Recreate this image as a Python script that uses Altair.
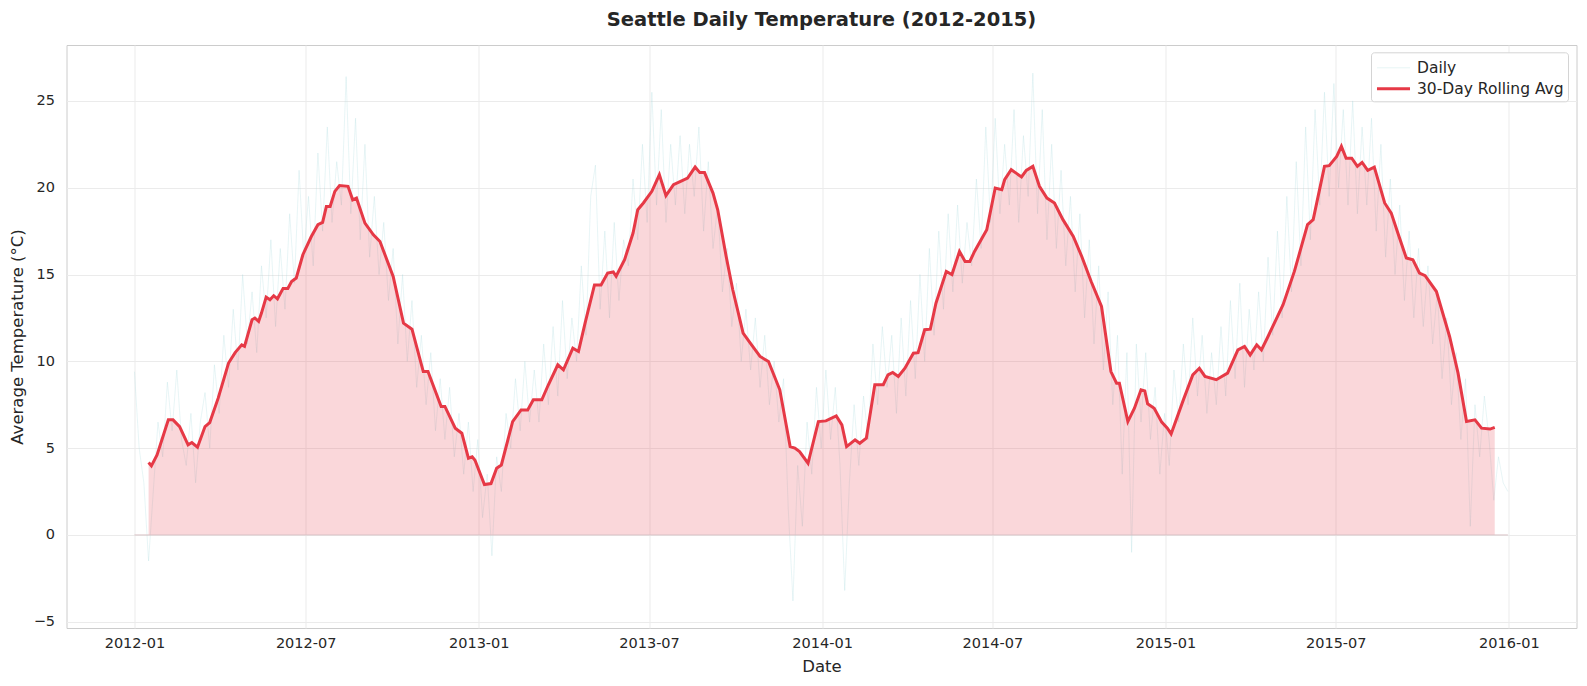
import altair as alt
import pandas as pd

FONT = "DejaVu Sans"
INK = "#262626"

series_names = ["Daily", "30-Day Rolling Avg"]
series_colors = ["#a8dadc", "#e63946"]

# daily mean temperature (one reading every 5 days)
daily_day = list(range(0, 1461, 5))
daily_temp = [
    9.4, 5.0, 3.0, -1.5, 2.5, 6.5, 4.5, 8.8, 6.0, 9.5,
    5.5, 4.0, 7.0, 3.0, 6.5, 8.2, 5.0, 9.8, 7.0, 11.5,
    8.5, 13.0, 9.5, 15.0, 11.0, 14.0, 10.5, 15.5, 12.5, 17.0,
    12.0, 16.5, 13.0, 18.5, 14.5, 21.0, 16.0, 19.5, 15.5, 22.0,
    17.5, 23.5, 18.0, 21.5, 19.0, 26.4, 18.5, 24.0, 17.0, 22.5,
    16.0, 19.5, 15.0, 18.0, 13.5, 16.5, 11.0, 15.0, 10.0, 13.5,
    8.5, 11.5, 7.5, 10.5, 6.0, 9.0, 5.5, 8.5, 4.5, 7.0,
    3.5, 6.5, 2.5, 5.5, 1.0, 3.5, -1.2, 4.5, 2.5, 7.0,
    5.0, 9.0, 6.0, 10.0, 6.5, 9.5, 6.5, 11.0, 7.5, 12.0,
    8.0, 13.5, 9.0, 12.5, 10.0, 15.5, 11.5, 19.5, 21.3, 13.0,
    17.5, 12.5, 18.0, 13.5, 17.0, 15.5, 20.5, 17.0, 22.5, 18.0,
    25.5, 19.0, 24.5, 18.0, 22.5, 19.0, 23.0, 18.5, 22.5, 19.5,
    23.5, 17.5, 21.5, 16.5, 19.0, 14.0, 16.5, 12.0, 14.5, 10.0,
    13.0, 9.5, 12.5, 8.5, 11.5, 7.5, 10.0, 6.5, 9.0, 1.5,
    -3.8, 4.0, 0.5, 6.5, 3.5, 8.5, 5.0, 9.5, 5.5, 8.5,
    4.0, -3.2, 3.0, 7.5, 4.0, 8.0, 5.5, 11.0, 7.5, 12.0,
    8.5, 11.5, 7.0, 12.5, 8.0, 13.5, 9.0, 15.0, 10.0, 16.5,
    11.5, 17.5, 13.0, 18.5, 14.0, 19.0, 14.5, 18.0, 15.5, 20.5,
    16.5, 23.5, 18.0, 24.0, 18.5, 22.5, 19.0, 24.5, 18.0, 23.0,
    19.5, 26.6, 18.5, 24.5, 17.0, 22.5, 16.5, 21.0, 15.5, 19.5,
    14.0, 18.5, 12.5, 17.0, 11.0, 15.5, 9.5, 14.0, 7.5, 11.5,
    3.5, 10.5, -1.0, 11.0, 6.5, 10.5, 5.5, 8.5, 3.5, 7.0,
    4.0, 9.5, 6.5, 11.0, 7.5, 12.5, 8.0, 11.5, 7.0, 10.5,
    7.5, 12.0, 8.0, 13.5, 9.0, 14.5, 8.5, 13.0, 9.5, 14.0,
    10.0, 16.0, 11.5, 17.5, 12.5, 19.5, 14.0, 21.5, 15.5, 23.5,
    17.0, 24.5, 19.0, 25.5, 19.5, 26.0, 20.0, 24.5, 19.0, 25.0,
    18.5, 23.5, 19.0, 24.0, 17.5, 22.5, 16.0, 20.5, 15.0, 19.0,
    13.5, 17.5, 12.5, 16.5, 12.0, 15.5, 11.0, 14.0, 9.0, 12.5,
    7.5, 10.5, 5.5, 9.0, 0.5, 7.5, 4.5, 8.0, 5.5, 2.0,
    4.5, 3.0, 2.5,
]

# centred 30-day rolling mean (day offset from 2012-01-01, value)
roll_day = [
    15, 18, 24, 36, 41, 48, 57, 61, 67, 75,
    80, 89, 100, 107, 114, 117, 125, 128, 132, 135,
    140, 144, 148, 152, 158, 163, 167, 172, 179, 188,
    195, 200, 204, 208, 213, 218, 227, 232, 236, 245,
    254, 261, 275, 286, 295, 307, 312, 326, 330, 341,
    348, 355, 359, 362, 372, 379, 385, 390, 402, 411,
    418, 424, 433, 440, 450, 456, 466, 472, 479, 489,
    496, 503, 509, 512, 521, 530, 535, 541, 550, 558,
    565, 573, 580, 588, 596, 601, 606, 615, 620, 629,
    636, 647, 656, 665, 674, 686, 697, 702, 707, 716,
    727, 735, 746, 752, 757, 766, 771, 778, 787, 796,
    801, 806, 812, 819, 828, 833, 840, 846, 852, 863,
    869, 877, 883, 888, 893, 906, 915, 922, 925, 932,
    938, 943, 948, 955, 962, 970, 978, 987, 998, 1007,
    1017, 1028, 1038, 1044, 1047, 1056, 1063, 1070, 1074, 1077,
    1084, 1092, 1098, 1102, 1115, 1125, 1132, 1138, 1150, 1162,
    1173, 1180, 1186, 1193, 1198, 1205, 1221, 1233, 1247, 1253,
    1265, 1270, 1278, 1283, 1288, 1294, 1300, 1305, 1311, 1318,
    1329, 1336, 1343, 1352, 1359, 1366, 1372, 1384, 1398, 1407,
    1416, 1425, 1432, 1441, 1446,
]
roll_temp = [
    4.17, 3.98, 4.61, 6.63, 6.63, 6.24, 5.19, 5.32, 5.05, 6.24,
    6.47, 7.88, 9.9, 10.5, 10.95, 10.86, 12.39, 12.49, 12.3, 12.78,
    13.7, 13.55, 13.78, 13.6, 14.2, 14.2, 14.6, 14.8, 16.14, 17.19,
    17.87, 18.0, 18.92, 18.92, 19.79, 20.12, 20.08, 19.3, 19.4, 17.96,
    17.29, 16.9, 14.89, 12.2, 11.85, 9.41, 9.41, 7.4, 7.4, 6.15,
    5.86, 4.42, 4.5, 4.3, 2.9, 2.96, 3.84, 4.03, 6.53, 7.2,
    7.2, 7.78, 7.78, 8.65, 9.8, 9.51, 10.76, 10.57, 12.2, 14.4,
    14.4, 15.08, 15.15, 14.9, 15.85, 17.39, 18.73, 19.12, 19.79, 20.75,
    19.54, 20.17, 20.35, 20.56, 21.19, 20.87, 20.87, 19.69, 18.73, 16.04,
    14.12, 11.63, 10.95, 10.28, 9.99, 8.36, 5.09, 5.0, 4.8, 4.13,
    6.53, 6.57, 6.86, 6.34, 5.09, 5.48, 5.28, 5.57, 8.65, 8.65,
    9.22, 9.36, 9.13, 9.6, 10.47, 10.5, 11.82, 11.85, 13.35, 15.18,
    15.0, 16.33, 15.75, 15.75, 16.33, 17.58, 19.98, 19.89, 20.46, 21.04,
    20.81, 20.62, 21.0, 21.23, 20.08, 19.4, 19.12, 18.16, 17.19, 16.04,
    14.6, 13.16, 9.41, 8.74, 8.74, 6.53, 7.3, 8.36, 8.3, 7.55,
    7.3, 6.5, 6.15, 5.82, 7.78, 9.22, 9.6, 9.13, 8.94, 9.32,
    10.66, 10.86, 10.37, 10.95, 10.66, 11.43, 13.26, 15.18, 17.87, 18.16,
    21.23, 21.27, 21.8, 22.38, 21.7, 21.7, 21.23, 21.46, 21.0, 21.19,
    19.12, 18.54, 17.39, 15.95, 15.85, 15.08, 14.93, 14.02, 11.43, 9.32,
    6.53, 6.63, 6.15, 6.1, 6.2,
]

start = pd.Timestamp("2012-01-01")
daily = pd.DataFrame({
    "date": [start + pd.Timedelta(days=d) for d in daily_day],
    "temp": daily_temp,
    "series": series_names[0],
})
roll = pd.DataFrame({
    "date": [start + pd.Timedelta(days=d) for d in roll_day],
    "temp": roll_temp,
    "series": series_names[1],
})
# baseline of the filled band spans the whole daily record
baseline = pd.DataFrame({"start": [daily["date"].min()], "end": [daily["date"].max()]})

W, H = 1510, 583

x_scale = alt.Scale(
    domain=[alt.DateTime(year=2011, month=10, date=20, hours=18),
            alt.DateTime(year=2016, month=3, date=12, hours=22)],
    nice=False,
)
y_scale = alt.Scale(domain=[-5.36, 28.22], nice=False, zero=False)

x_enc = alt.X(
    "date:T", scale=x_scale,
    axis=alt.Axis(title="Date", format="%Y-%m",
                  tickCount=alt.TimeIntervalStep(interval="month", step=6),
                  labelFlush=False, labelPadding=8,
                  titleY=38, titleBaseline="middle"),
)
y_enc = alt.Y(
    "temp:Q", scale=y_scale,
    axis=alt.Axis(title="Average Temperature (°C)", values=[-5, 0, 5, 10, 15, 20, 25],
                  labelPadding=12, titleX=-49, titleY=H / 2, titleBaseline="middle"),
)

# long thin line glyph for the legend entries
legend = alt.Legend(
    title=None, orient="none", legendX=1304.5, legendY=7.3,
    fillColor="white", strokeColor="#d4d4d4", cornerRadius=3, padding=4,
    symbolType="M-1.53,0H1.53", symbolSize=466, symbolOffset=6,
    rowPadding=0, labelOffset=11,
)
color_enc = alt.Color("series:N", scale=alt.Scale(domain=series_names, range=series_colors),
                      legend=legend)
width_enc = alt.StrokeWidth("series:N", scale=alt.Scale(domain=series_names, range=[0.6, 3]),
                            legend=legend)
opacity_enc = alt.Opacity("series:N", scale=alt.Scale(domain=series_names, range=[0.45, 1.0]),
                          legend=legend)

daily_line = alt.Chart(daily).mark_line().encode(
    x=x_enc, y=y_enc, color=color_enc, strokeWidth=width_enc, opacity=opacity_enc
)

band = alt.Chart(roll).mark_area(color="#e63946", opacity=0.2).encode(
    x=x_enc, y=y_enc, y2=alt.datum(0)
)

zero_rule = alt.Chart(baseline).mark_rule(color="#d9c3c6", strokeWidth=1).encode(
    x="start:T", x2="end:T", y=alt.datum(0)
)

roll_line = alt.Chart(roll).mark_line().encode(
    x=x_enc, y=y_enc, color=color_enc, strokeWidth=width_enc, opacity=opacity_enc
)

chart = alt.layer(daily_line, band, zero_rule, roll_line).properties(
    width=W, height=H,
    title=alt.TitleParams("Seattle Daily Temperature (2012-2015)", fontSize=19.5,
                          fontWeight="bold", font=FONT, color=INK, offset=15),
    autosize=alt.AutoSizeParams(type="none"),
    padding={"left": 58.5, "top": 37, "right": 2, "bottom": 50},
).configure_view(
    stroke="#cccccc", strokeWidth=1
).configure_axis(
    labelFont=FONT, titleFont=FONT, labelFontSize=14.5, titleFontSize=16.5,
    labelColor=INK, titleColor=INK, titleFontWeight="normal",
    grid=True, gridColor="#ebebeb", gridWidth=1,
    ticks=False, domain=False,
).configure_legend(
    labelFont=FONT, labelFontSize=15.5, labelColor=INK,
)

chart.save("out.html", embed_options={"renderer": "svg", "actions": False})
